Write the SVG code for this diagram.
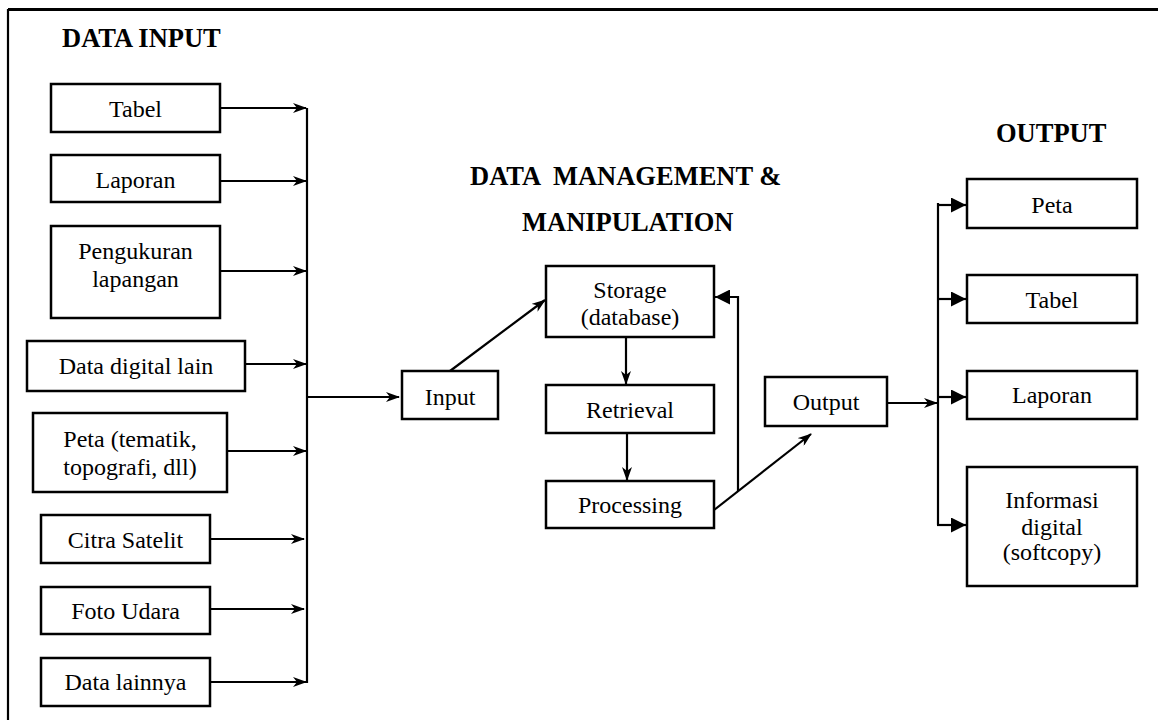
<svg xmlns="http://www.w3.org/2000/svg" width="1158" height="720" viewBox="0 0 1158 720">
<style>
.box{fill:#fff;stroke:#000;stroke-width:2.5}
.t{font-family:"Liberation Serif","Times New Roman",serif;font-size:24px;fill:#000;text-anchor:middle}
.h{font-family:"Liberation Serif","Times New Roman",serif;font-size:26.5px;font-weight:bold;fill:#000}
.c{fill:none;stroke:#000;stroke-width:2.2}
</style>
<defs>
<marker id="barb" viewBox="0 0 14 10" refX="13" refY="5" markerWidth="14" markerHeight="10" markerUnits="userSpaceOnUse" orient="auto">
<path d="M0,0 L14,5 L0,10 L4,5 Z" fill="#000"/>
</marker>
<marker id="tri" viewBox="0 0 14 14" refX="14" refY="7" markerWidth="15" markerHeight="15" markerUnits="userSpaceOnUse" orient="auto">
<path d="M0,0 L14,7 L0,14 Z" fill="#000"/>
</marker>
</defs>
<rect width="1158" height="720" fill="#fff"/>
<g id="frame">
<line x1="8" y1="9.5" x2="1158" y2="9.5" stroke="#000" stroke-width="3"/>
<line x1="8" y1="9" x2="8" y2="720" stroke="#000" stroke-width="2.2"/>
</g>
<g id="headers">
<text class="h" x="62" y="47">DATA INPUT</text>
<text class="h" x="470" y="185" xml:space="preserve">DATA  MANAGEMENT &amp;</text>
<text class="h" x="522" y="231">MANIPULATION</text>
<text class="h" x="996" y="142">OUTPUT</text>
</g>
<g id="connectors">
<path class="c" d="M307,108 V683"/>
<path class="c" d="M220,108 H306" marker-end="url(#barb)"/>
<path class="c" d="M220,181 H306" marker-end="url(#barb)"/>
<path class="c" d="M220,271 H306" marker-end="url(#barb)"/>
<path class="c" d="M245,364 H306" marker-end="url(#barb)"/>
<path class="c" d="M227,451 H306" marker-end="url(#barb)"/>
<path class="c" d="M210,539 H304" marker-end="url(#barb)"/>
<path class="c" d="M210,609 H304" marker-end="url(#barb)"/>
<path class="c" d="M210,682 H306" marker-end="url(#barb)"/>
<path class="c" d="M307,397 H399" marker-end="url(#barb)"/>
<path class="c" d="M450,371 L545,300" marker-end="url(#barb)"/>
<path class="c" d="M626,337 V384" marker-end="url(#barb)"/>
<path class="c" d="M627,433 V480" marker-end="url(#barb)"/>
<path class="c" d="M714,510 L811,434" marker-end="url(#barb)"/>
<path class="c" d="M738,491 V297 H715" marker-end="url(#tri)"/>
<path class="c" d="M887,403 H937" stroke-width="3" marker-end="url(#barb)"/>
<path class="c" d="M938,203 V525"/>
<path class="c" d="M937,205 H966" marker-end="url(#tri)"/>
<path class="c" d="M937,299 H966" marker-end="url(#tri)"/>
<path class="c" d="M937,397 H966" marker-end="url(#tri)"/>
<path class="c" d="M937,525 H966" marker-end="url(#tri)"/>
</g>
<g id="in-tabel"><rect class="box" x="51" y="84" width="169" height="48"/><text class="t" x="135.5" y="117">Tabel</text></g>
<g id="in-laporan"><rect class="box" x="51" y="155" width="169" height="47"/><text class="t" x="135.5" y="188">Laporan</text></g>
<g id="in-pengukuran"><rect class="box" x="51" y="226" width="169" height="92"/><text class="t" x="135.5" y="259">Pengukuran</text><text class="t" x="135.5" y="287">lapangan</text></g>
<g id="in-digital"><rect class="box" x="27" y="341" width="218" height="50"/><text class="t" x="136" y="374">Data digital lain</text></g>
<g id="in-peta"><rect class="box" x="33" y="413" width="194" height="79"/><text class="t" x="130" y="447">Peta (tematik,</text><text class="t" x="130" y="475">topografi, dll)</text></g>
<g id="in-citra"><rect class="box" x="41" y="515" width="169" height="48"/><text class="t" x="125.5" y="548">Citra Satelit</text></g>
<g id="in-foto"><rect class="box" x="41" y="587" width="169" height="47"/><text class="t" x="125.5" y="619">Foto Udara</text></g>
<g id="in-lainnya"><rect class="box" x="41" y="658" width="169" height="48"/><text class="t" x="125.5" y="690">Data lainnya</text></g>
<g id="input"><rect class="box" x="402" y="371" width="96" height="48"/><text class="t" x="450" y="405">Input</text></g>
<g id="storage"><rect class="box" x="546" y="266" width="168" height="71"/><text class="t" x="630" y="298">Storage</text><text class="t" x="630" y="325">(database)</text></g>
<g id="retrieval"><rect class="box" x="546" y="385" width="168" height="48"/><text class="t" x="630" y="418">Retrieval</text></g>
<g id="processing"><rect class="box" x="546" y="481" width="168" height="47"/><text class="t" x="630" y="513">Processing</text></g>
<g id="output"><rect class="box" x="765" y="377" width="122" height="49"/><text class="t" x="826" y="410">Output</text></g>
<g id="out-peta"><rect class="box" x="967" y="179" width="170" height="49"/><text class="t" x="1052" y="213">Peta</text></g>
<g id="out-tabel"><rect class="box" x="967" y="275" width="170" height="48"/><text class="t" x="1052" y="308">Tabel</text></g>
<g id="out-laporan"><rect class="box" x="967" y="371" width="170" height="48"/><text class="t" x="1052" y="403">Laporan</text></g>
<g id="out-informasi"><rect class="box" x="967" y="467" width="170" height="119"/><text class="t" x="1052" y="508">Informasi</text><text class="t" x="1052" y="535">digital</text><text class="t" x="1052" y="560">(softcopy)</text></g>
</svg>
